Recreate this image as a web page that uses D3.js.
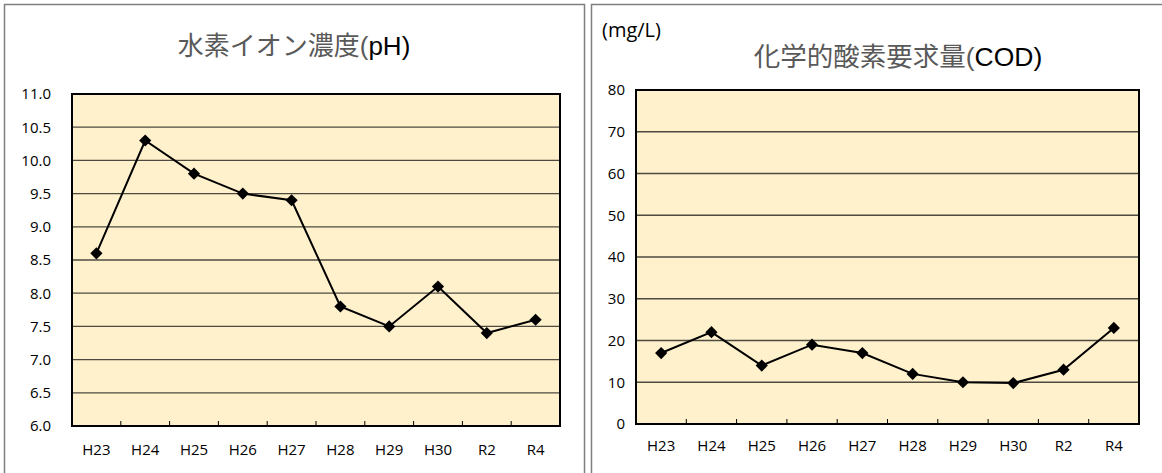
<!DOCTYPE html>
<html><head><meta charset="utf-8">
<script src="https://cdn.jsdelivr.net/npm/d3@7"></script>
<style>
body{margin:0;background:#fff;}
svg{display:block;}
</style></head>
<body>
<svg id="c" width="1162" height="473"></svg>
<script>
const categories = ["H23","H24","H25","H26","H27","H28","H29","H30","R2","R4"];
const phValues  = [8.6,10.3,9.8,9.5,9.4,7.8,7.5,8.1,7.4,7.6];
const codValues = [17,22,14,19,17,12,10,9.8,13,23];
const phTicks  = [6.0,6.5,7.0,7.5,8.0,8.5,9.0,9.5,10.0,10.5,11.0];
const codTicks = [0,10,20,30,40,50,60,70,80];

const svg = d3.select("#c");
const latin = "'Liberation Sans', Arial, sans-serif";
const cjk = "'Noto Sans CJK JP', sans-serif";
const tickFont = "'Open Sans', 'Noto Sans', sans-serif";

svg.append("rect").attr("x",4.5).attr("y",4.5).attr("width",580).attr("height",480)
  .attr("fill","none").attr("stroke","#7f7f7f").attr("stroke-width",1.5);
svg.append("rect").attr("x",591.5).attr("y",4.5).attr("width",580).attr("height",480)
  .attr("fill","none").attr("stroke","#7f7f7f").attr("stroke-width",1.5);

function chart(o){
  const x = d3.scaleBand().domain(categories).range([o.x0,o.x1]);
  const y = d3.scaleLinear().domain(o.domain).range([o.y1,o.y0]);
  const g = svg.append("g");
  g.append("rect").attr("x",o.x0).attr("y",o.y0).attr("width",o.x1-o.x0).attr("height",o.y1-o.y0)
    .attr("fill","#fff1cc");
  g.append("g").selectAll("line").data(o.ticks.slice(1,-1)).join("line")
    .attr("x1",o.x0).attr("x2",o.x1).attr("y1",d=>y(d)).attr("y2",d=>y(d))
    .attr("stroke","#4d4a40").attr("stroke-width",1.3);
  const ya = d3.axisLeft(y).tickValues(o.ticks).tickSize(0).tickPadding(o.ypad).tickFormat(o.fmt);
  const yg = g.append("g").attr("transform",`translate(${o.x0},0)`).call(ya);
  yg.select(".domain").remove();
  yg.selectAll("text").attr("font-family",tickFont).attr("font-size",15).attr("fill","#000");
  const bounds = categories.slice(1).map(c=>x(c));
  g.append("g").selectAll("line").data(bounds).join("line")
    .attr("x1",d=>d).attr("x2",d=>d).attr("y1",o.y1).attr("y2",o.y1-5)
    .attr("stroke","#000").attr("stroke-width",1);
  g.append("g").selectAll("text").data(categories).join("text")
    .attr("x",d=>x(d)+x.bandwidth()/2).attr("y",o.y1+o.xlab)
    .attr("text-anchor","middle").attr("font-family",tickFont).attr("font-size",15)
    .text(d=>d);
  g.append("rect").attr("x",o.x0).attr("y",o.y0).attr("width",o.x1-o.x0).attr("height",o.y1-o.y0)
    .attr("fill","none").attr("stroke","#000").attr("stroke-width",2);
  const line = d3.line().x((d,i)=>x(categories[i])+x.bandwidth()/2).y(d=>y(d));
  g.append("path").datum(o.values).attr("d",line).attr("fill","none")
    .attr("stroke","#000").attr("stroke-width",2);
  g.append("g").selectAll("path").data(o.values).join("path")
    .attr("d",d3.symbol().type(d3.symbolDiamond2).size(95))
    .attr("transform",(d,i)=>`translate(${x(categories[i])+x.bandwidth()/2},${y(d)})`)
    .attr("fill","#000");
  const t = svg.append("text").attr("x",o.tx).attr("y",o.ty).attr("text-anchor","middle").attr("font-size",o.tfs);
  t.append("tspan").attr("font-family",cjk).attr("fill","#595959").text(o.tj);
  t.append("tspan").attr("font-family",latin).attr("fill","#595959").text("(");
  t.append("tspan").attr("font-family",latin).attr("fill","#000").text(o.tl);
}

chart({x0:72,x1:560,y0:94,y1:426,domain:[6,11],ticks:phTicks,fmt:d3.format(".1f"),
  values:phValues,ypad:21,xlab:29,tx:294,ty:55,tfs:26,tj:"水素イオン濃度",tl:"pH)"});
chart({x0:636,x1:1139,y0:90,y1:424,domain:[0,80],ticks:codTicks,fmt:d3.format("d"),
  values:codValues,ypad:11,xlab:27,tx:898,ty:66,tfs:26.5,tj:"化学的酸素要求量",tl:"COD)"});

svg.append("text").attr("x",602).attr("y",37).attr("font-family",tickFont).attr("font-size",20)
  .attr("fill","#000").text("(mg/L)");
</script>
</body></html>
